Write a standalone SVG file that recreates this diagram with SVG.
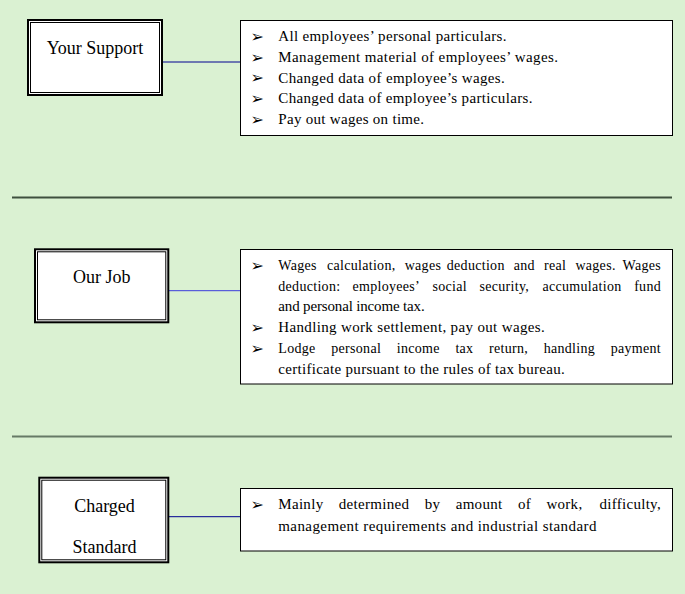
<svg xmlns="http://www.w3.org/2000/svg" width="685" height="594" viewBox="0 0 685 594">
<style>
.bg{fill:#daf1d2}
.outer{fill:#fff;stroke:#000;stroke-width:2}
.inner{fill:none;stroke:#000;stroke-width:1}
.list{fill:#fff;stroke:#000;stroke-width:1}
.title{font-family:"Liberation Serif","Times New Roman",serif;font-size:18px;fill:#000;text-anchor:middle}
.body{font-family:"Liberation Serif","Times New Roman",serif;font-size:15px;letter-spacing:0.3px;fill:#000}
.sm{font-size:14px}
.end{text-anchor:end}
.bul{font-family:"DejaVu Sans",sans-serif;font-size:16px;fill:#000}
.sep{stroke-width:2;fill:none}
.conn{stroke-width:1;fill:none}
</style>
<rect class="bg" x="0" y="0" width="685" height="594"/>
<g id="separators">
<line class="sep" x1="12" y1="197.5" x2="672" y2="197.5" stroke="#3e503e"/>
<line class="sep" x1="12" y1="436.5" x2="672" y2="436.5" stroke="#667a66"/>
</g>
<g id="connectors">
<line class="conn" x1="163" y1="62" x2="240" y2="62" stroke="#000090"/>
<line class="conn" x1="169" y1="290.7" x2="240" y2="290.7" stroke="#3c3cdc"/>
<line class="conn" x1="169" y1="516.7" x2="240" y2="516.7" stroke="#000090"/>
</g>
<g id="your-support">
<rect class="outer" x="28" y="20" width="134" height="75"/>
<rect class="inner" x="30.5" y="22.5" width="129" height="70"/>
<text class="title" x="95" y="54">Your Support</text>
</g>
<g id="support-list">
<rect class="list" x="240.5" y="20.5" width="432" height="115"/>
<text class="bul" x="250.5" y="42">➢</text>
<text class="body" x="278.3" y="41.3" textLength="228.4" lengthAdjust="spacing">All employees’ personal particulars.</text>
<text class="bul" x="250.5" y="62.7">➢</text>
<text class="body" x="278.3" y="62" textLength="280" lengthAdjust="spacing">Management material of employees’ wages.</text>
<text class="bul" x="250.5" y="83.4">➢</text>
<text class="body" x="278.3" y="82.7" textLength="226.7" lengthAdjust="spacing">Changed data of employee’s wages.</text>
<text class="bul" x="250.5" y="104.1">➢</text>
<text class="body" x="278.3" y="103.4" textLength="254.4" lengthAdjust="spacing">Changed data of employee’s particulars.</text>
<text class="bul" x="250.5" y="124.8">➢</text>
<text class="body" x="278.3" y="124.1" textLength="146" lengthAdjust="spacing">Pay out wages on time.</text>
</g>
<g id="our-job">
<rect class="outer" x="35" y="249.3" width="133.3" height="73"/>
<rect class="inner" x="37.5" y="251.8" width="128.3" height="68"/>
<text class="title" x="101.7" y="282.7">Our Job</text>
</g>
<g id="job-list">
<rect class="list" x="240.5" y="249.5" width="432" height="134.5"/>
<text class="bul" x="250.5" y="270.7">➢</text>
<text class="body sm" y="270"><tspan x="278.3">Wages</tspan><tspan x="327">calculation,</tspan><tspan x="404.7">wages</tspan><tspan x="446.8">deduction</tspan><tspan x="513.8">and</tspan><tspan x="544.1">real</tspan><tspan x="575.4">wages.</tspan></text>
<text class="body sm end" x="661" y="270">Wages</text>
<text class="body sm" y="290.7"><tspan x="278.3">deduction:</tspan><tspan x="352.5">employees’</tspan><tspan x="432.5">social</tspan><tspan x="479.5">security,</tspan><tspan x="542.5">accumulation</tspan></text>
<text class="body sm end" x="661" y="290.7">fund</text>
<text class="body" x="278.3" y="311.4" textLength="146.7" lengthAdjust="spacing">and personal income tax.</text>
<text class="bul" x="250.5" y="332.8">➢</text>
<text class="body" x="278.3" y="332.1" textLength="266.7" lengthAdjust="spacing">Handling work settlement, pay out wages.</text>
<text class="bul" x="250.5" y="353.5">➢</text>
<text class="body sm" y="352.8"><tspan x="278.3">Lodge</tspan><tspan x="331.3">personal</tspan><tspan x="396.7">income</tspan><tspan x="455.4">tax</tspan><tspan x="489">return,</tspan><tspan x="543.7">handling</tspan></text>
<text class="body sm end" x="661" y="352.8">payment</text>
<text class="body" x="278.3" y="373.5" textLength="286.7" lengthAdjust="spacing">certificate pursuant to the rules of tax bureau.</text>
</g>
<g id="charged-standard">
<rect class="outer" x="39.3" y="477.7" width="129" height="84.6"/>
<rect class="inner" x="41.8" y="480.2" width="124" height="79.6"/>
<text class="title" x="104.5" y="511.7">Charged</text>
<text class="title" x="104.5" y="553.3">Standard</text>
</g>
<g id="standard-list">
<rect class="list" x="240.5" y="488.5" width="432" height="62.5"/>
<text class="bul" x="250.5" y="510">➢</text>
<text class="body" y="509.3"><tspan x="278.3">Mainly</tspan><tspan x="338.8">determined</tspan><tspan x="424.7">by</tspan><tspan x="455.7">amount</tspan><tspan x="517.9">of</tspan><tspan x="546.4">work,</tspan></text>
<text class="body end" x="661" y="509.3">difficulty,</text>
<text class="body" x="278.3" y="530.7" textLength="318.4" lengthAdjust="spacing">management requirements and industrial standard</text>
</g>
</svg>
